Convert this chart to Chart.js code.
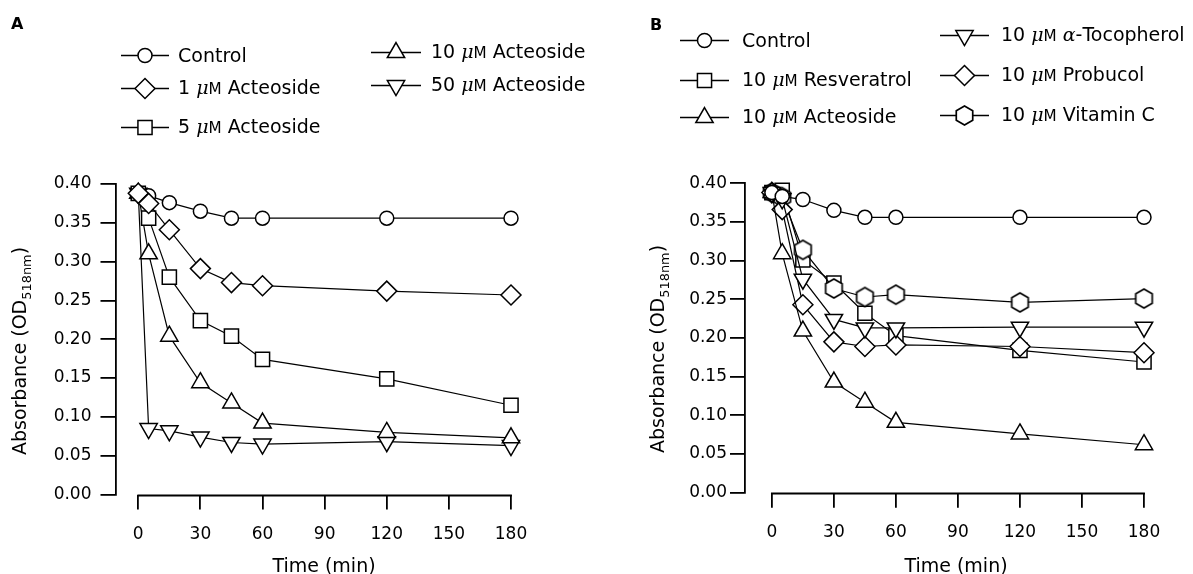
<!DOCTYPE html>
<html>
<head>
<meta charset="utf-8">
<script src="https://cdn.jsdelivr.net/npm/chart.js@4.4.0/dist/chart.umd.min.js"></script>
<style>
  html, body { margin: 0; padding: 0; background: #fff; }
  #wrap { position: relative; width: 1193px; height: 574px; overflow: hidden; font-family: "DejaVu Sans", sans-serif; color: #000; }
  #wrap > canvas { position: absolute; top: 0; }
  .panel { position: absolute; font-weight: bold; font-size: 16px; line-height: 1; }
  .leg { position: absolute; display: flex; align-items: center; font-size: 19px; white-space: nowrap; line-height: 1; }
  .leg canvas { display: block; }
  .ytitle { position: absolute; transform: translate(-50%, -50%) rotate(-90deg); white-space: nowrap; font-size: 19px; line-height: 1; }
  .xtitle { position: absolute; transform: translate(-50%, -50%); white-space: nowrap; font-size: 19px; line-height: 1; }
  .ytitle sub { font-size: 0.68em; vertical-align: -0.35em; }
  .mu { font-family: "DejaVu Serif", serif; font-style: italic; }
  .sc { font-size: 0.8em; }
</style>
</head>
<body>
<div id="wrap">
  <canvas id="chartA" width="596" height="574" style="left:0"></canvas>
  <canvas id="chartB" width="597" height="574" style="left:596px"></canvas>
  <div class="panel" style="left:11px;top:16px">A</div>
  <div class="panel" style="left:650px;top:17px">B</div>
  <div class="ytitle" style="left:22px;top:351px">Absorbance (OD<sub>518nm</sub>)</div>
  <div class="ytitle" style="left:660px;top:349px">Absorbance (OD<sub>518nm</sub>)</div>
  <div class="xtitle" style="left:324px;top:565px">Time (min)</div>
  <div class="xtitle" style="left:956px;top:565px">Time (min)</div>
</div>
<script>
// ---------------- data ----------------
const timeMin = [0, 5, 15, 30, 45, 60, 120, 180];
const xTickValues = [0, 30, 60, 90, 120, 150, 180];
const yTickValues = [0, 0.05, 0.10, 0.15, 0.20, 0.25, 0.30, 0.35, 0.40];
const yTickLabels = ['0.00', '0.05', '0.10', '0.15', '0.20', '0.25', '0.30', '0.35', '0.40'];

// Panel A
const labelsA = ['Control', '1 μM Acteoside', '5 μM Acteoside', '10 μM Acteoside', '50 μM Acteoside'];
const aControl = [0.388, 0.385, 0.376, 0.365, 0.356, 0.356, 0.356, 0.356];
const aActeo1  = [0.388, 0.375, 0.341, 0.291, 0.273, 0.269, 0.262, 0.257];
const aActeo5  = [0.388, 0.356, 0.280, 0.224, 0.204, 0.174, 0.149, 0.115];
const aActeo10 = [0.388, 0.310, 0.204, 0.144, 0.118, 0.092, 0.080, 0.073];
const aActeo50 = [0.388, 0.085, 0.082, 0.074, 0.067, 0.065, 0.068, 0.063];

// Panel B
const labelsB = ['Control', '10 μM Resveratrol', '10 μM Acteoside', '10 μM α-Tocopherol', '10 μM Probucol', '10 μM Vitamin C'];
const bControl = [0.388, 0.383, 0.379, 0.365, 0.356, 0.356, 0.356, 0.356];
const bResv    = [0.388, 0.391, 0.301, 0.271, 0.232, 0.203, 0.184, 0.169];
const bActeo   = [0.388, 0.309, 0.209, 0.143, 0.117, 0.091, 0.076, 0.062];
const bToco    = [0.388, 0.380, 0.276, 0.224, 0.213, 0.213, 0.214, 0.214];
const bProb    = [0.388, 0.366, 0.243, 0.195, 0.189, 0.191, 0.189, 0.181];
const bVitC    = [0.388, 0.382, 0.314, 0.264, 0.253, 0.256, 0.246, 0.251];

// ---------------- markers ----------------
function makeHex(R, lw) {
  const s = Math.ceil(2 * R + lw * 2 + 2);
  const c = document.createElement('canvas');
  c.width = s; c.height = s;
  const g = c.getContext('2d');
  g.beginPath();
  for (let i = 0; i < 6; i++) {
    const a = -Math.PI / 2 + i * Math.PI / 3;
    const px = s / 2 + R * Math.cos(a), py = s / 2 + R * Math.sin(a);
    if (i) g.lineTo(px, py); else g.moveTo(px, py);
  }
  g.closePath();
  g.fillStyle = '#fff'; g.fill();
  g.lineWidth = lw; g.strokeStyle = '#000'; g.stroke();
  return c;
}
const hexImg = makeHex(9.5, 1.7);
const M = {
  circle:  { style: 'circle',   radius: 7,   rotation: 0 },
  diamond: { style: 'rectRot',  radius: 10,  rotation: 0 },
  square:  { style: 'rect',     radius: 10,  rotation: 0 },
  triUp:   { style: 'triangle', radius: 10,  rotation: 0 },
  triDown: { style: 'triangle', radius: 10,  rotation: 180 },
  hex:     { style: hexImg,     radius: 10,  rotation: 0 }
};

function ds(label, data, m, order) {
  return {
    label, data: timeMin.map((t, i) => ({ x: t, y: data[i] })),
    borderColor: '#000', borderWidth: 1.2, tension: 0, order: order || 0,
    pointStyle: m.style, pointRadius: m.radius, pointRotation: m.rotation,
    pointBackgroundColor: '#fff', pointBorderColor: '#000', pointBorderWidth: 1.5,
    pointHoverRadius: m.radius, clip: false, _marker: m
  };
}

const xAxisLine = {
  id: 'xAxisLine',
  beforeDatasetsDraw(chart) {
    const xs = chart.scales.x, ys = chart.scales.y, ctx = chart.ctx;
    const yy = Math.round(ys.getPixelForValue(0)) + 0.5;
    ctx.save();
    ctx.strokeStyle = '#000'; ctx.lineWidth = 1.8;
    ctx.beginPath();
    ctx.moveTo(xs.getPixelForValue(xTickValues[0]) - 0.9, yy);
    ctx.lineTo(xs.getPixelForValue(xTickValues[xTickValues.length - 1]) + 0.9, yy);
    ctx.stroke();
    ctx.restore();
  }
};

function makeChart(id, datasets, cfg) {
  return new Chart(document.getElementById(id), {
    type: 'line',
    data: { datasets },
    plugins: [xAxisLine],
    options: {
      responsive: false, animation: false, devicePixelRatio: 1,
      layout: { padding: { left: 0, top: cfg.top, right: cfg.right, bottom: 0 } },
      plugins: { legend: { display: false }, tooltip: { enabled: false } },
      scales: {
        x: {
          type: 'linear', min: cfg.xmin, max: 180,
          afterBuildTicks: s => { s.ticks = xTickValues.map(v => ({ value: v })); },
          afterFit: s => { s.height = cfg.xh; },
          border: { display: false },
          grid: { drawOnChartArea: false, drawTicks: true, tickLength: 15, color: '#000', lineWidth: 1.8 },
          ticks: { autoSkip: false, maxRotation: 0, padding: 15, color: '#000',
                   font: { family: 'DejaVu Sans', size: 17 } }
        },
        y: {
          type: 'linear', min: 0, max: 0.40,
          afterBuildTicks: s => { s.ticks = yTickValues.map(v => ({ value: v })); },
          afterFit: s => { s.width = cfg.yw; },
          border: { display: true, color: '#000', width: 1.8 },
          grid: { drawOnChartArea: false, drawTicks: true, tickLength: 15, color: '#000', lineWidth: 1.8 },
          ticks: { autoSkip: false, padding: cfg.ypad, color: '#000',
                   font: { family: 'DejaVu Sans', size: 17 },
                   callback: (v) => { const i = yTickValues.findIndex(t => Math.abs(t - v) < 1e-9); return i >= 0 ? yTickLabels[i] : ''; } }
        }
      }
    }
  });
}

const chartA = makeChart('chartA', [
  ds(labelsA[0], aControl, M.circle, 2),
  ds(labelsA[1], aActeo1, M.diamond, 0),
  ds(labelsA[2], aActeo5, M.square, 1),
  ds(labelsA[3], aActeo10, M.triUp, 1),
  ds(labelsA[4], aActeo50, M.triDown, 1)
], { top: 184, right: 85, xmin: -11, xh: 79.5, yw: 115.5, ypad: 9 });

const chartB = makeChart('chartB', [
  ds(labelsB[0], bControl, M.circle, 0),
  ds(labelsB[1], bResv, M.square, 5),
  ds(labelsB[2], bActeo, M.triUp, 1),
  ds(labelsB[3], bToco, M.triDown, 1),
  ds(labelsB[4], bProb, M.diamond, 1),
  ds(labelsB[5], bVitC, M.hex, 1)
], { top: 183.3, right: 49, xmin: -13, xh: 81.3, yw: 149, ypad: 3 });

// ---------------- legends (HTML, generated from datasets) ----------------
function fmt(label) {
  return label
    .replace('μM', '<span class="mu">μ</span><span class="sc">M</span>')
    .replace('α', '<span class="mu">α</span>');
}
function legendItem(chart, idx, left, cy, symW, gap) {
  const d = chart.data.datasets[idx];
  const m = d._marker;
  const div = document.createElement('div');
  div.className = 'leg';
  div.style.left = left + 'px';
  div.style.top = (cy - 13) + 'px';
  div.style.height = '26px';
  const c = document.createElement('canvas');
  c.width = symW; c.height = 26;
  const g = c.getContext('2d');
  g.strokeStyle = '#000'; g.lineWidth = 1.5;
  g.beginPath(); g.moveTo(0, 13.5); g.lineTo(symW, 13.5); g.stroke();
  g.fillStyle = '#fff'; g.strokeStyle = '#000'; g.lineWidth = 1.5;
  Chart.helpers.drawPoint(g, { pointStyle: m.style, rotation: m.rotation, radius: m.radius, borderWidth: 1.5 }, symW / 2, 13.5);
  div.appendChild(c);
  const sp = document.createElement('span');
  sp.style.marginLeft = gap + 'px';
  sp.innerHTML = fmt(d.label);
  div.appendChild(sp);
  document.getElementById('wrap').appendChild(div);
}
// panel A legend
legendItem(chartA, 0, 121, 55, 48, 9);
legendItem(chartA, 1, 121, 88, 48, 9);
legendItem(chartA, 2, 121, 127, 48, 9);
legendItem(chartA, 3, 371, 52, 50, 10);
legendItem(chartA, 4, 371, 85, 50, 10);
// panel B legend
legendItem(chartB, 0, 680, 40, 49, 13);
legendItem(chartB, 1, 680, 80, 49, 13);
legendItem(chartB, 2, 680, 117, 49, 13);
legendItem(chartB, 3, 940, 35, 49, 12);
legendItem(chartB, 4, 940, 75, 49, 12);
legendItem(chartB, 5, 940, 115, 49, 12);
</script>
</body>
</html>
